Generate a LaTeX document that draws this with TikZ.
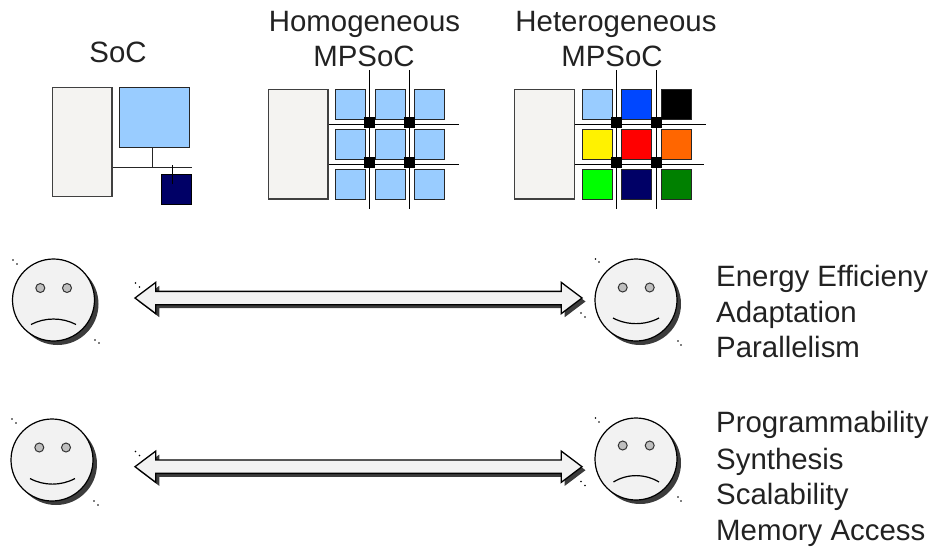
\documentclass[tikz,border=0pt]{standalone}
\usepackage{fontspec}
\setmainfont{Liberation Sans}
\usepackage{tikz}
\usetikzlibrary{shapes.arrows,shadows}

\definecolor{memgray}{HTML}{F4F3F1}
\definecolor{tileblue}{HTML}{99CCFF}
\definecolor{tilenavy}{HTML}{000066}
\definecolor{tileroyal}{HTML}{0047FF}
\definecolor{tileorange}{HTML}{FF6600}
\definecolor{tilegreen}{HTML}{008000}
\definecolor{facegray}{HTML}{F2F2F2}
\definecolor{eyegray}{HTML}{BFBFBF}
\definecolor{shadowgray}{HTML}{3C3C3C}
\definecolor{textgray}{HTML}{222222}

\tikzset{
	label/.style={inner sep=0pt, anchor=base, text=textgray, font=\fontsize{29.4}{30}\selectfont},
	listing/.style={label, anchor=base west},
	mem/.style={draw=black!75, line width=1.2pt, fill=memgray, inner sep=0pt, minimum width=59.5pt, minimum height=109.5pt},
	tile/.style={draw=black!85, line width=1pt, fill=tileblue, inner sep=0pt, minimum width=30pt, minimum height=30pt},
	router/.style={fill=black, inner sep=0pt, minimum size=11pt},
	bus/.style={draw=black!85, line width=1pt},
	face/.style={circle, draw=black, line width=1.2pt, fill=facegray, inner sep=0pt, minimum size=82pt,
		general shadow={fill=shadowgray, shadow xshift=4pt, shadow yshift=-4pt}},
	eye/.style={circle, draw=black!80, line width=1pt, fill=eyegray, inner sep=0pt, minimum size=9pt},
	mouth/.style={draw=black, line width=1.2pt},
	bigarrow/.style={double arrow, draw=black, line width=1.3pt, fill=facegray, inner xsep=0pt, inner ysep=6pt,
		minimum height=447pt, double arrow head extend=9pt, double arrow tip angle=74,
		general shadow={fill=shadowgray, shadow xshift=3.5pt, shadow yshift=-3.5pt}},
	speck/.style={fill=black},
}

\begin{document}
\begin{tikzpicture}[x=1pt,y=-1pt]
	\useasboundingbox (0,0) rectangle (933,549);

	% Titles
	\node[label] (soctitle) at (118,62) {SoC};
	\node[label] (homtitle) at (364.5,31) {Homogeneous};
	\node[label] (homsub) at (364,66) {MPSoC};
	\node[label] (hettitle) at (616,31) {Heterogeneous};
	\node[label] (hetsub) at (612,66) {MPSoC};

	% SoC
	\node[mem] (socmem) at (82.3,142) {};
	\node[tile, minimum width=69.5pt, minimum height=59.5pt] (soccpu) at (154.3,117.3) {};
	\node[tile, fill=tilenavy, draw=black] (socacc) at (176.5,189) {};
	\coordinate (socbus) at (191.5,167);
	\coordinate (socstub) at (152,147);
	\coordinate (soctop) at (172,165);
	\coordinate (socdrop) at (172,184);
	\draw[bus] (socmem.east |- socbus) -- (socbus);
	\draw[bus] (socstub |- socbus) -- (socstub);
	\draw[bus, draw=black] (soctop) -- (socdrop);

	% Homogeneous
	\node[mem] (hommem) at (298.3,144.3) {};
	\coordinate (homh1) at (459,124);
	\coordinate (homh2) at (459,164);
	\coordinate (homv1a) at (369.5,70);
	\coordinate (homv1b) at (369.5,208.5);
	\coordinate (homv2a) at (409.5,70);
	\coordinate (homv2b) at (409.5,208.5);
	\node[tile] (hom11) at (350.5,104.5) {};
	\node[tile] (hom12) at (390,104.5) {};
	\node[tile] (hom13) at (429.5,104.5) {};
	\node[tile] (hom21) at (350.5,144.3) {};
	\node[tile] (hom22) at (390,144.3) {};
	\node[tile] (hom23) at (429.5,144.3) {};
	\node[tile] (hom31) at (350.5,184) {};
	\node[tile] (hom32) at (390,184) {};
	\node[tile] (hom33) at (429.5,184) {};
	\draw[bus, draw=black] (hommem.east |- homh1) -- (homh1);
	\draw[bus, draw=black] (hommem.east |- homh2) -- (homh2);
	\draw[bus, draw=black] (homv1a) -- (homv1b);
	\draw[bus, draw=black] (homv2a) -- (homv2b);
	\node[router] (homr11) at (369,122) {};
	\node[router] (homr12) at (409,122) {};
	\node[router] (homr21) at (369,162) {};
	\node[router] (homr22) at (409,162) {};

	% Heterogeneous
	\node[mem] (hetmem) at (544.6,144.3) {};
	\coordinate (heth1) at (706,124);
	\coordinate (heth2) at (703.5,164);
	\coordinate (hetv1a) at (616.5,70);
	\coordinate (hetv1b) at (616.5,208.5);
	\coordinate (hetv2a) at (656.5,70);
	\coordinate (hetv2b) at (656.5,208.5);
	\node[tile] (het11) at (597,104.5) {};
	\node[tile, fill=tileroyal] (het12) at (636.5,104.5) {};
	\node[tile, fill=black] (het13) at (676,104.5) {};
	\node[tile, fill=yellow] (het21) at (597,144.3) {};
	\node[tile, fill=red] (het22) at (636.5,144.3) {};
	\node[tile, fill=tileorange] (het23) at (676,144.3) {};
	\node[tile, fill=green] (het31) at (597,184) {};
	\node[tile, fill=tilenavy] (het32) at (636.5,184) {};
	\node[tile, fill=tilegreen] (het33) at (676,184) {};
	\draw[bus, draw=black] (hetmem.east |- heth1) -- (heth1);
	\draw[bus, draw=black] (hetmem.east |- heth2) -- (heth2);
	\draw[bus, draw=black] (hetv1a) -- (hetv1b);
	\draw[bus, draw=black] (hetv2a) -- (hetv2b);
	\node[router] (hetr11) at (616,122) {};
	\node[router] (hetr12) at (656,122) {};
	\node[router] (hetr21) at (616,162) {};
	\node[router] (hetr22) at (656,162) {};

	% Row one
	\node[face] (sad1) at (53.5,300) {};
	\node[eye] (sad1l) at (40.3,288) {};
	\node[eye] (sad1r) at (67,288) {};
	\draw[mouth] (31,324.5) .. controls (45,317.2) and (62,317.2) .. (76,324.5);
	\node[bigarrow] (arrow1) at (358.5,298) {};
	\node[face] (happy1) at (636,300) {};
	\node[eye] (happy1l) at (622.7,287.5) {};
	\node[eye] (happy1r) at (649.7,287.5) {};
	\draw[mouth] (613,318) .. controls (627,325.5) and (645,325.5) .. (659,318);
	\node[listing] (energy) at (716,286) {Energy Efficieny};
	\node[listing] (adapt) at (716,322.5) {Adaptation};
	\node[listing] (para) at (716,357) {Parallelism};

	% Row two
	\node[face] (happy2) at (52,460) {};
	\node[eye] (happy2l) at (39.3,447.5) {};
	\node[eye] (happy2r) at (66,447.5) {};
	\draw[mouth] (30,478.5) .. controls (44,486) and (61,486) .. (75,478.5);
	\node[bigarrow] (arrow2) at (358.5,466.7) {};
	\node[face] (sad2) at (636,459) {};
	\node[eye] (sad2l) at (622.7,445.5) {};
	\node[eye] (sad2r) at (649.7,445.5) {};
	\draw[mouth] (613.5,482) .. controls (627,473.5) and (645,473.5) .. (659,482);
	\node[listing] (prog) at (716,432) {Programmability};
	\node[listing] (synth) at (716,469) {Synthesis};
	\node[listing] (scal) at (716,504) {Scalability};
	\node[listing] (access) at (716,540) {Memory Access};

	% Specks
	\fill[speck] (13,260) circle (0.8);
	\fill[speck] (17,264) circle (0.8);
	\fill[speck] (95,340) circle (0.8);
	\fill[speck] (99,343) circle (0.8);
	\fill[speck] (135.5,283) circle (0.8);
	\fill[speck] (139.5,287) circle (0.8);
	\fill[speck] (581,313) circle (0.8);
	\fill[speck] (585,317) circle (0.8);
	\fill[speck] (595.5,259) circle (0.8);
	\fill[speck] (599,262) circle (0.8);
	\fill[speck] (678,341) circle (0.8);
	\fill[speck] (681,345) circle (0.8);
	\fill[speck] (12,419) circle (0.8);
	\fill[speck] (16,423) circle (0.8);
	\fill[speck] (94,501) circle (0.8);
	\fill[speck] (98,505) circle (0.8);
	\fill[speck] (135.5,451.5) circle (0.8);
	\fill[speck] (139.5,455.5) circle (0.8);
	\fill[speck] (581,481.5) circle (0.8);
	\fill[speck] (585,485.5) circle (0.8);
	\fill[speck] (595.5,418) circle (0.8);
	\fill[speck] (599,422) circle (0.8);
	\fill[speck] (678,497) circle (0.8);
	\fill[speck] (681,501) circle (0.8);

\end{tikzpicture}
\end{document}
